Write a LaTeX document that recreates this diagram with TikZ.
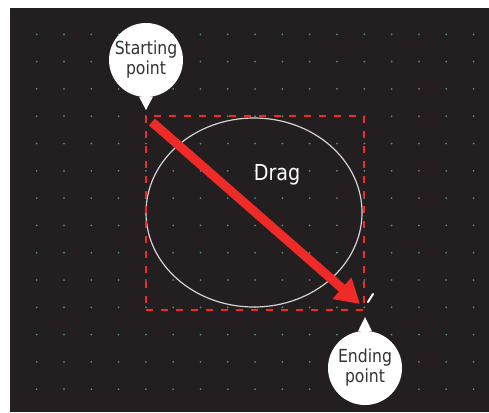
\documentclass[tikz,border=0pt]{standalone}
\usepackage{fontspec}
\setmainfont{DejaVu Sans}[FakeStretch=0.87]
\usetikzlibrary{arrows.meta,positioning,shapes.geometric}
\definecolor{bgdark}{HTML}{231F20}
\definecolor{griddot}{HTML}{4F8C92}
\definecolor{dragred}{HTML}{EE2B27}
\definecolor{calltext}{HTML}{333333}
\definecolor{shapeline}{HTML}{D4D4D4}

\begin{document}
\begin{tikzpicture}[x=1bp, y=-1bp,
    callout/.style={circle, fill=white, minimum size=74bp, inner sep=0pt, align=center,
                    text=calltext, font=\fontsize{18bp}{20bp}\selectfont},
    pointer/.style={fill=white},
    selbox/.style={draw=dragred, line width=2.5bp, dash pattern=on 7bp off 8bp,
                   minimum width=218bp, minimum height=194bp, inner sep=0pt},
    drawn/.style={draw=shapeline, line width=1.2bp, ellipse, inner sep=0pt},
    arr/.style={-{Triangle[length=24bp, width=27bp]}, dragred, line width=9bp},
]
\useasboundingbox (0,0) rectangle (489,412);
\fill[bgdark] (10,8) rectangle (489,412);

% --- dot grid ---
\foreach \i in {0,...,16}
  \foreach \j in {0,...,13}
    \fill[griddot] (36.7+27.3*\i, 34.3+27.3*\j) circle (1bp);

% --- shape and selection ---
\node[drawn, minimum width=216bp, minimum height=189bp] (shape) at (254,212.5) {};
\node[selbox] (box) at (255,213) {};
\node[text=white, font=\fontsize{22bp}{24bp}\selectfont] (drag) at (277,175) {Drag};

% --- drag arrow ---
\coordinate (start) at (152,122);
\coordinate (end) at (360,304);
\draw[arr] (start) -- (end);

% cursor
\coordinate (curA) at (368,302);
\coordinate (curB) at (373,294);
\draw[white, line width=2bp, line cap=round] (curA) -- (curB);

% --- callouts ---
\node[callout] (startcall) at (146,60) {Starting\\point};
\coordinate (starttip) at (146,110);
\fill[pointer] (startcall.-101) -- (starttip) -- (startcall.-79) -- cycle;

\node[callout] (endcall) at (365,368) {Ending\\point};
\coordinate (endtip) at (365,317);
\fill[pointer] (endcall.101) -- (endtip) -- (endcall.79) -- cycle;
\end{tikzpicture}
\end{document}
